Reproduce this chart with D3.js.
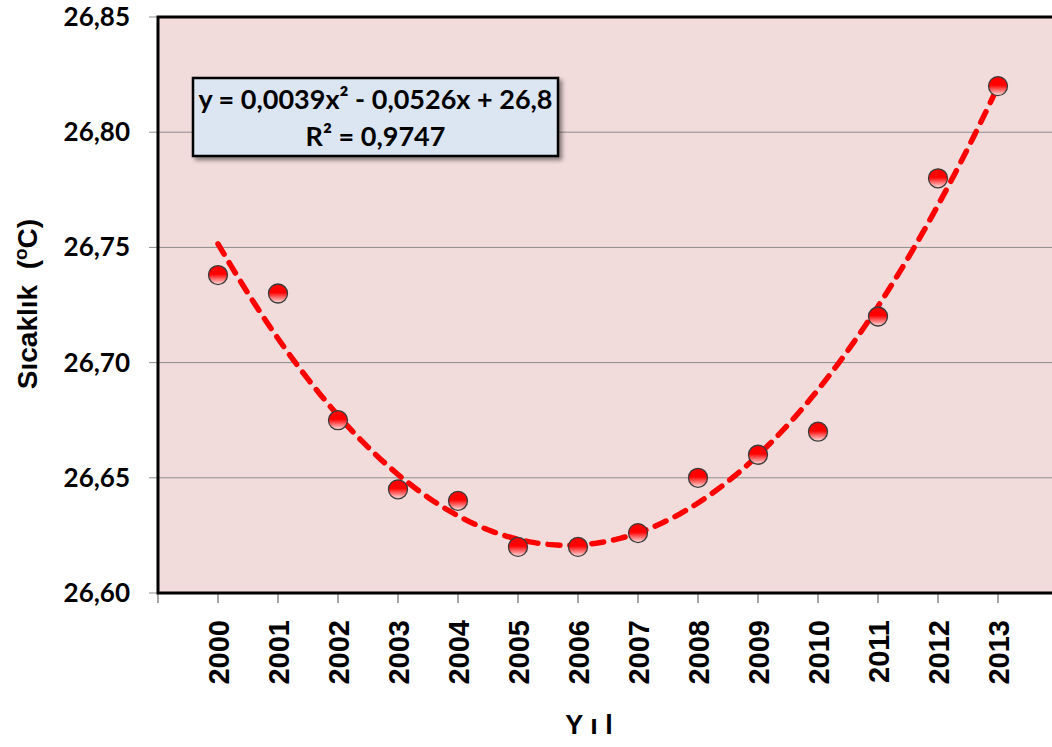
<!DOCTYPE html>
<html lang="tr">
<head>
<meta charset="UTF-8">
<title>Sıcaklık - Yıl</title>
<script src="https://cdn.jsdelivr.net/npm/d3@7"></script>
<style>
  body { margin: 0; background: #fff; }
  svg { display: block; }
</style>
</head>
<body>
<svg id="chart" width="1052" height="747"></svg>
<script>
// data
const years = [2000, 2001, 2002, 2003, 2004, 2005, 2006, 2007, 2008, 2009, 2010, 2011, 2012, 2013];
const temps = [26.738, 26.730, 26.675, 26.645, 26.640, 26.620, 26.620, 26.626, 26.650, 26.660, 26.670, 26.720, 26.780, 26.820];
const yTicks = [26.60, 26.65, 26.70, 26.75, 26.80, 26.85];
const eqLine1 = "y = 0,0039x² - 0,0526x + 26,8";
const eqLine2 = "R² = 0,9747";

const svg = d3.select("#chart");
const plotL = 158, plotT = 17, plotB = 593, plotR = 1058;

const x = d3.scaleLinear().domain([1999, 2014]).range([plotL, plotR]);
const y = d3.scaleLinear().domain([26.60, 26.85]).range([plotB, plotT]);

const defs = svg.append("defs");
const grad = defs.append("linearGradient")
    .attr("id", "ball").attr("x1", 0).attr("y1", 0).attr("x2", 0).attr("y2", 1);
grad.append("stop").attr("offset", "0%").attr("stop-color", "#ff0000");
grad.append("stop").attr("offset", "45%").attr("stop-color", "#ff0000");
grad.append("stop").attr("offset", "100%").attr("stop-color", "#fde4e4");

const shadow = defs.append("filter").attr("id", "shadow")
    .attr("x", "-10%").attr("y", "-20%").attr("width", "130%").attr("height", "150%");
shadow.append("feDropShadow").attr("dx", 3).attr("dy", 3).attr("stdDeviation", 2)
    .attr("flood-color", "#000").attr("flood-opacity", 0.45);

// plot background
svg.append("rect")
    .attr("x", plotL).attr("y", plotT)
    .attr("width", plotR - plotL).attr("height", plotB - plotT)
    .attr("fill", "#f2dcdb");

// gridlines + y ticks
svg.append("g").selectAll("line").data(yTicks).join("line")
    .attr("x1", plotL - 9).attr("x2", plotR)
    .attr("y1", d => y(d)).attr("y2", d => y(d))
    .attr("stroke", "#8c8c8c").attr("stroke-width", 1);

svg.append("g").selectAll("text").data(yTicks).join("text")
    .attr("x", 130).attr("y", d => y(d) + 9)
    .attr("text-anchor", "end")
    .attr("font-family", "Lato, 'Open Sans', sans-serif")
    .attr("font-weight", "bold").attr("font-size", 26)
    .text(d => d3.format(".2f")(d).replace(".", ","));

// x ticks
const xTickVals = [1999].concat(years);
svg.append("g").selectAll("line").data(xTickVals).join("line")
    .attr("x1", d => x(d)).attr("x2", d => x(d))
    .attr("y1", plotB).attr("y2", plotB + 10)
    .attr("stroke", "#777").attr("stroke-width", 1.3);

svg.append("g").selectAll("text").data(years).join("text")
    .attr("transform", d => `translate(${x(d) + 11},620) rotate(-90)`)
    .attr("text-anchor", "end")
    .attr("font-family", "'Liberation Sans', Arial, sans-serif")
    .attr("font-weight", "bold").attr("font-size", 29)
    .text(d => d);

// axis borders
svg.append("path")
    .attr("d", `M${plotR},${plotT}H${plotL}V${plotB}H${plotR}`)
    .attr("fill", "none").attr("stroke", "#000").attr("stroke-width", 3);

// quadratic trend (least squares over x = 1..n)
function fitQuad(xs, ys) {
  const s = [0, 0, 0, 0, 0], t = [0, 0, 0];
  xs.forEach((xi, i) => {
    for (let k = 0; k < 5; k++) s[k] += Math.pow(xi, k);
    for (let k = 0; k < 3; k++) t[k] += Math.pow(xi, k) * ys[i];
  });
  const A = [[s[0], s[1], s[2], t[0]], [s[1], s[2], s[3], t[1]], [s[2], s[3], s[4], t[2]]];
  for (let i = 0; i < 3; i++) {
    for (let j = i + 1; j < 3; j++) {
      const f = A[j][i] / A[i][i];
      for (let k = i; k < 4; k++) A[j][k] -= f * A[i][k];
    }
  }
  const c = [0, 0, 0];
  for (let i = 2; i >= 0; i--) {
    let v = A[i][3];
    for (let k = i + 1; k < 3; k++) v -= A[i][k] * c[k];
    c[i] = v / A[i][i];
  }
  return c;
}
const idx = years.map((d, i) => i + 1);
const coef = fitQuad(idx, temps);
const trendPts = d3.range(1, years.length + 0.001, 0.1)
    .map(t => [years[0] + t - 1, coef[0] + coef[1] * t + coef[2] * t * t]);

svg.append("path")
    .datum(trendPts)
    .attr("d", d3.line().x(d => x(d[0])).y(d => y(d[1])))
    .attr("fill", "none").attr("stroke", "#ff0000")
    .attr("stroke-width", 5.5).attr("stroke-linecap", "round")
    .attr("stroke-dasharray", "12,10");

// markers
svg.append("g").selectAll("circle").data(years).join("circle")
    .attr("cx", d => x(d)).attr("cy", (d, i) => y(temps[i]))
    .attr("r", 9.5)
    .attr("fill", "url(#ball)")
    .attr("stroke", "#3a3a3a").attr("stroke-width", 1.3);

// equation box
const box = svg.append("g");
box.append("rect")
    .attr("x", 193).attr("y", 78).attr("width", 365).attr("height", 78)
    .attr("fill", "#dce6f2").attr("stroke", "#000").attr("stroke-width", 2.5)
    .attr("filter", "url(#shadow)");
box.append("text")
    .attr("x", 375.5).attr("y", 109)
    .attr("text-anchor", "middle")
    .attr("font-family", "Lato, 'Open Sans', sans-serif")
    .attr("font-weight", "bold").attr("font-size", 27)
    .text(eqLine1);
box.append("text")
    .attr("x", 375.5).attr("y", 146)
    .attr("text-anchor", "middle")
    .attr("font-family", "Lato, 'Open Sans', sans-serif")
    .attr("font-weight", "bold").attr("font-size", 27)
    .text(eqLine2);

// axis titles
const yTitle = svg.append("text")
    .attr("transform", "translate(37,304) rotate(-90)")
    .attr("text-anchor", "middle")
    .style("white-space", "pre")
    .attr("font-family", "'Liberation Sans', Arial, sans-serif")
    .attr("font-weight", "bold").attr("font-size", 28);
yTitle.append("tspan").text("Sıcaklık  (");
yTitle.append("tspan").attr("baseline-shift", "super").attr("font-size", 19).text("o");
yTitle.append("tspan").text("C)");

svg.append("text")
    .attr("x", 589).attr("y", 734)
    .attr("text-anchor", "middle")
    .style("white-space", "pre")
    .attr("font-family", "'Liberation Sans', Arial, sans-serif")
    .attr("font-weight", "bold").attr("font-size", 27)
    .text("Y ı l");
</script>
</body>
</html>
